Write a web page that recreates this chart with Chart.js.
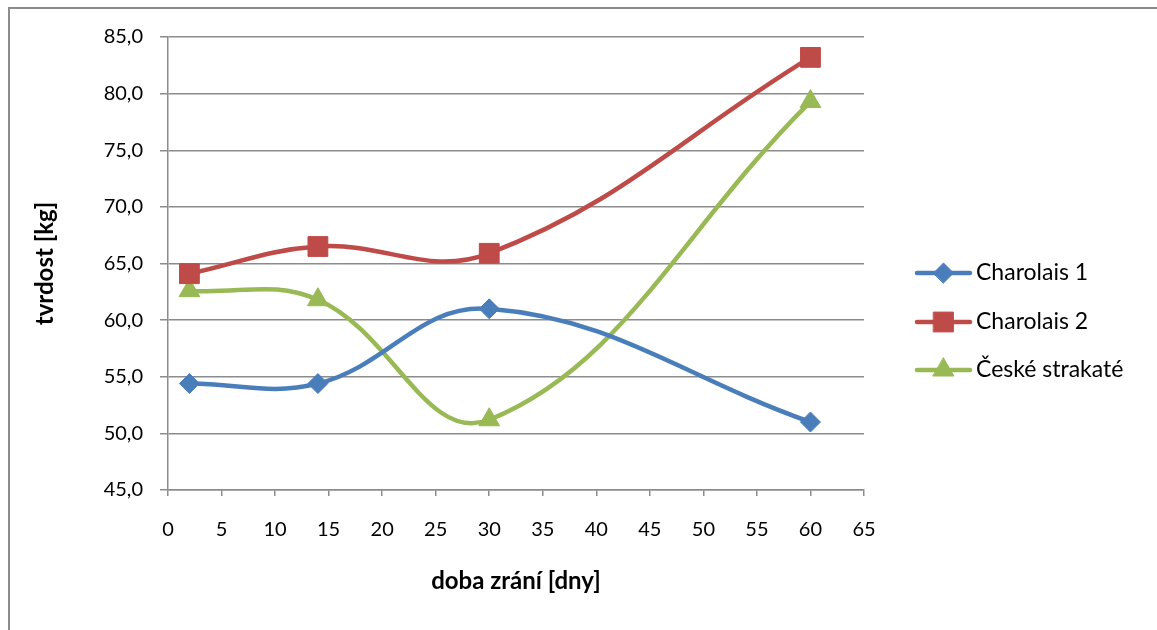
<!DOCTYPE html>
<html>
<head>
<meta charset="utf-8">
<script src="https://cdn.jsdelivr.net/npm/chart.js@4/dist/chart.umd.min.js"></script>
<style>
  html, body { margin: 0; padding: 0; background: #fff; }
  #wrap { width: 1157px; height: 630px; position: relative; }
</style>
</head>
<body>
<div id="wrap"><canvas id="chart" width="1157" height="630"></canvas></div>
<script>
// data
const days = [2, 14, 30, 60];
const charolais1 = [54.4, 54.4, 61.0, 51.0];
const charolais2 = [64.1, 66.5, 65.9, 83.2];
const ceske = [62.6, 61.8, 51.2, 79.3];
const seriesNames = ['Charolais 1', 'Charolais 2', 'České strakaté'];
const xTicks = [0, 5, 10, 15, 20, 25, 30, 35, 40, 45, 50, 55, 60, 65];
const yTicks = [45, 50, 55, 60, 65, 70, 75, 80, 85];

const FONT = 'Lato';
const GRID = '#8c8c8c';

function pts(vals) {
    return days.map((d, i) => ({ x: d, y: vals[i] }));
}

// gray frame around the whole chart (right/bottom cut off)
const framePlugin = {
    id: 'frame',
    beforeDraw(chart) {
        const ctx = chart.ctx;
        ctx.save();
        ctx.fillStyle = '#fff';
        ctx.fillRect(0, 0, chart.width, chart.height);
        ctx.strokeStyle = '#8c8c8c';
        ctx.lineWidth = 2;
        ctx.strokeRect(9, 8, 3000, 3000);
        ctx.restore();
    }
};

// legend on the right: line with marker + label
const legendPlugin = {
    id: 'sideLegend',
    afterDraw(chart) {
        const ctx = chart.ctx;
        const x0 = 917, x1 = 970, textX = 976;
        const rows = [273, 322, 370];
        ctx.save();
        chart.data.datasets.forEach((ds, i) => {
            const y = rows[i];
            ctx.strokeStyle = ds.borderColor;
            ctx.lineWidth = ds.borderWidth;
            ctx.lineCap = 'round';
            ctx.beginPath();
            ctx.moveTo(x0, y);
            ctx.lineTo(x1, y);
            ctx.stroke();
            ctx.fillStyle = ds.pointBackgroundColor;
            ctx.strokeStyle = ds.pointBorderColor;
            ctx.lineWidth = 1;
            Chart.helpers.drawPoint(ctx, {
                pointStyle: ds.pointStyle,
                radius: ds.pointRadius,
                rotation: 0,
                borderWidth: 1
            }, (x0 + x1) / 2, y);
            ctx.fillStyle = '#000';
            ctx.font = '23px ' + FONT;
            ctx.textBaseline = 'middle';
            ctx.textAlign = 'left';
            ctx.fillText(seriesNames[i], textX, y);
        });
        ctx.restore();
    }
};

const ctx = document.getElementById('chart').getContext('2d');

new Chart(ctx, {
    type: 'line',
    data: {
        datasets: [
            {
                label: seriesNames[0],
                data: pts(charolais1),
                borderColor: '#4a7ebb',
                pointBackgroundColor: '#4a7ebb',
                pointBorderColor: '#4a7ebb',
                pointStyle: 'rectRot',
                pointRadius: 10,
                borderWidth: 4.5
            },
            {
                label: seriesNames[1],
                data: pts(charolais2),
                borderColor: '#be4b48',
                pointBackgroundColor: '#be4b48',
                pointBorderColor: '#be4b48',
                pointStyle: 'rect',
                pointRadius: 14,
                borderWidth: 4.5
            },
            {
                label: seriesNames[2],
                data: pts(ceske),
                borderColor: '#98b954',
                pointBackgroundColor: '#98b954',
                pointBorderColor: '#98b954',
                pointStyle: 'triangle',
                pointRadius: 12,
                borderWidth: 4.5
            }
        ]
    },
    options: {
        responsive: false,
        animation: false,
        layout: {
            padding: { left: 31, top: 37, right: 1157 - 864, bottom: 34 }
        },
        datasets: {
            line: { tension: 0.4, fill: false, pointBorderWidth: 1 }
        },
        plugins: {
            legend: { display: false },
            tooltip: { enabled: false }
        },
        scales: {
            x: {
                type: 'linear',
                min: 0,
                max: 65,
                afterBuildTicks(scale) {
                    scale.ticks = xTicks.map(v => ({ value: v }));
                },
                afterFit(scale) { scale.height = 106; },
                grid: {
                    drawOnChartArea: false,
                    drawTicks: true,
                    tickLength: 6,
                    color: GRID,
                    lineWidth: 1.5
                },
                border: { color: GRID, width: 1.5 },
                ticks: {
                    color: '#000',
                    padding: 22,
                    maxRotation: 0,
                    font: { family: FONT, size: 20 }
                },
                title: {
                    display: true,
                    text: 'doba zrání [dny]',
                    color: '#000',
                    padding: 0,
                    font: { family: FONT, size: 24, weight: 'bold' }
                }
            },
            y: {
                min: 45,
                max: 85,
                afterBuildTicks(scale) {
                    scale.ticks = yTicks.map(v => ({ value: v }));
                },
                afterFit(scale) { scale.width = 168 - 31; },
                grid: {
                    drawTicks: true,
                    tickLength: 8,
                    color: GRID,
                    lineWidth: 1.5
                },
                border: { color: GRID, width: 1.5 },
                ticks: {
                    color: '#000',
                    padding: 17,
                    font: { family: FONT, size: 20 },
                    callback: v => v.toFixed(1).replace('.', ',')
                },
                title: {
                    display: true,
                    text: 'tvrdost [kg]',
                    color: '#000',
                    padding: 0,
                    font: { family: FONT, size: 24, weight: 'bold' }
                }
            }
        }
    },
    plugins: [framePlugin, legendPlugin]
});
</script>
</body>
</html>
